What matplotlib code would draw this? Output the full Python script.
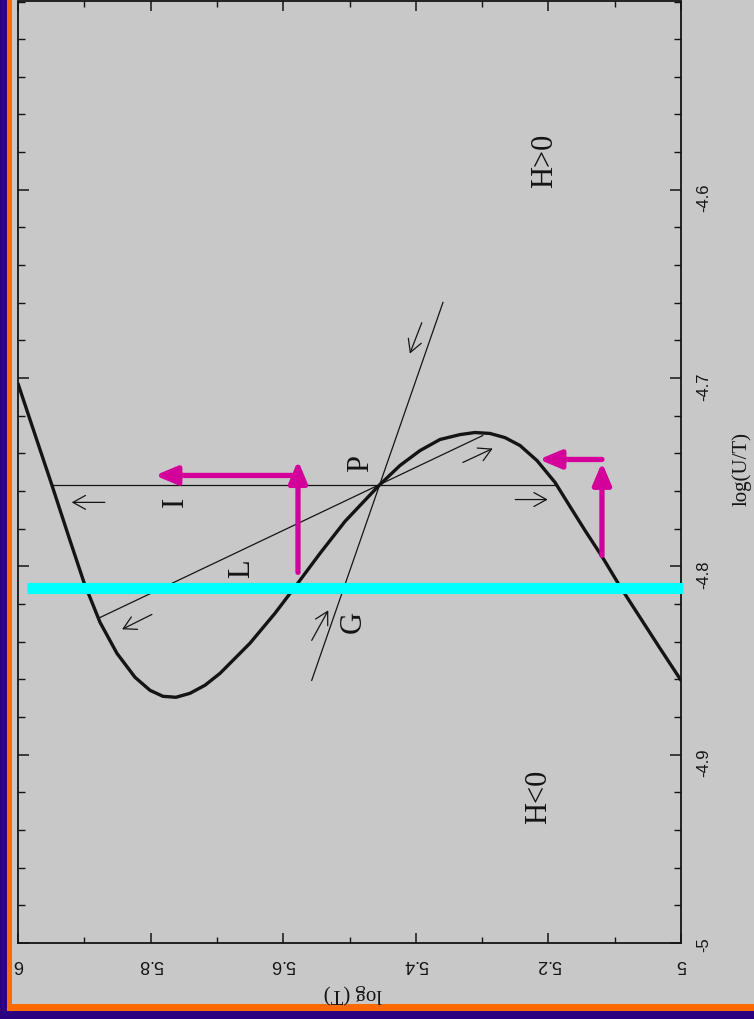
import matplotlib
matplotlib.use("Agg")
import matplotlib.pyplot as plt
from matplotlib.patches import Rectangle
from matplotlib.ticker import MultipleLocator

# ---- data -------------------------------------------------------------
# Thermal equilibrium curve (H = 0): log T against log(U/T)
log_T = [6.0000, 5.9774, 5.9487, 5.9246, 5.9005, 5.8763, 5.8507, 5.8235,
         5.8009, 5.7813, 5.7617, 5.7406, 5.7179, 5.6953, 5.6501, 5.6124,
         5.5792, 5.5445, 5.5068, 5.4555, 5.4238, 5.3937, 5.3635, 5.3333,
         5.3107, 5.2881, 5.2655, 5.2428, 5.2172, 5.1900, 5.1674, 5.1448,
         5.1192, 5.0920, 5.0618, 5.0317, 5.0000]
log_UT = [-4.7029, -4.7268, -4.7570, -4.7830, -4.8085, -4.8297, -4.8462,
          -4.8589, -4.8658, -4.8690, -4.8695, -4.8674, -4.8631, -4.8568,
          -4.8408, -4.8249, -4.8095, -4.7931, -4.7761, -4.7570, -4.7464,
          -4.7385, -4.7326, -4.7300, -4.7289, -4.7294, -4.7316, -4.7358,
          -4.7438, -4.7554, -4.7682, -4.7809, -4.7947, -4.8106, -4.8271,
          -4.8435, -4.8605]

# Perturbation lines through P: I, L and G
line_I_T = [5.947, 5.190]
line_I_UT = [-4.757, -4.757]
line_L_T = [5.879, 5.299]
line_L_UT = [-4.8276, -4.7305]
line_G_T = [5.557, 5.359]
line_G_UT = [-4.8605, -4.6598]

# small direction arrows (tail T, tail U/T, head T, head U/T)
dir_arrows = [
    (5.869, -4.766, 5.919, -4.766),
    (5.250, -4.7645, 5.201, -4.7645),
    (5.798, -4.8255, 5.843, -4.8334),
    (5.329, -4.7448, 5.284, -4.7374),
    (5.557, -4.8393, 5.532, -4.8233),
    (5.391, -4.6706, 5.409, -4.6870),
]

# region / line labels (text, T, U/T)
labels = [
    ("I", 5.763, -4.7655),
    ("L", 5.662, -4.8010),
    ("P", 5.484, -4.7454),
    ("G", 5.495, -4.8297),
    ("H>0", 5.205, -4.5846),
    ("H<0", 5.214, -4.9225),
]

# highlighted level and the two step arrows drawn over it
cut_UT = -4.8117
cut_T = [5.986, 4.997]
step_up = [(5.5777, -4.8032, 5.5777, -4.7438),
           (5.1192, -4.7942, 5.1192, -4.7448)]
step_left = [(5.5750, -4.7517, 5.7934, -4.7517),
             (5.1192, -4.7432, 5.2142, -4.7432)]

x_ticks = [6.0, 5.8, 5.6, 5.4, 5.2, 5.0]
x_ticklabels = ["6", "5.8", "5.6", "5.4", "5.2", "5"]
y_ticks = [-5.0, -4.9, -4.8, -4.7, -4.6]
y_ticklabels = ["-5", "-4.9", "-4.8", "-4.7", "-4.6"]

# ---- figure -----------------------------------------------------------
W, H = 754, 1019
PURPLE = "#2a0080"
ORANGE = "#ff6a00"
GRAY = "#c8c8c8"
INK = "#141414"
MAGENTA = "#d4009a"
CYAN = "#00ffff"

fig = plt.figure(figsize=(W / 100, H / 100), dpi=100)
fig.patch.set_facecolor(PURPLE)
fig.add_artist(Rectangle((7 / W, 8 / H), 1, 1, transform=fig.transFigure,
                         facecolor=ORANGE, edgecolor="none", zorder=0))
fig.add_artist(Rectangle((12 / W, 15 / H), 1, 1, transform=fig.transFigure,
                         facecolor=GRAY, edgecolor="none", zorder=0))

ax = fig.add_axes([18 / W, 76 / H, 663 / W, 941.5 / H])
ax.set_facecolor(GRAY)
ax.set_xlim(6.0, 5.0)
ax.set_ylim(-5.0, -4.5)
for sp in ax.spines.values():
    sp.set_linewidth(1.3)
    sp.set_color(INK)

ax.set_xticks(x_ticks)
ax.set_xticklabels(x_ticklabels, rotation=180, fontsize=13,
                   family="Liberation Sans", color=INK)
ax.xaxis.set_minor_locator(MultipleLocator(0.1))
ax.set_yticks(y_ticks)
ax.set_yticklabels(y_ticklabels, rotation=90, fontsize=12,
                   family="Liberation Sans", color=INK)
ax.yaxis.set_minor_locator(MultipleLocator(0.02))
ax.tick_params(axis="both", which="both", direction="in", color=INK,
               top=True, bottom=True, left=True, right=True)
ax.tick_params(axis="x", which="major", length=7, width=1.1, pad=9)
ax.tick_params(axis="x", which="minor", length=4, width=1.0)
ax.tick_params(axis="y", which="major", length=8, width=1.1, pad=11,
               labelleft=False, labelright=True)
ax.tick_params(axis="y", which="minor", length=5, width=1.0)

# equilibrium curve
ax.plot(log_T, log_UT, color=INK, lw=2.4, solid_joinstyle="round",
        solid_capstyle="round", zorder=3)

# perturbation lines
for xs, ys in [(line_I_T, line_I_UT), (line_L_T, line_L_UT),
               (line_G_T, line_G_UT)]:
    ax.plot(xs, ys, color=INK, lw=0.9, zorder=2)

for x0, y0, x1, y1 in dir_arrows:
    ax.annotate("", xy=(x1, y1), xytext=(x0, y0),
                arrowprops=dict(arrowstyle="->,head_length=0.9,head_width=0.5",
                                lw=0.9, color=INK, shrinkA=0, shrinkB=0))

for txt, x, y in labels:
    ax.text(x, y, txt, rotation=90, ha="center", va="center", fontsize=22,
            family="Liberation Serif", color=INK, zorder=4)

# highlighted level and step arrows
ax.plot(cut_T, [cut_UT, cut_UT], color=CYAN, lw=8, solid_capstyle="butt",
        clip_on=False, zorder=5)
for x0, y0, x1, y1 in step_up + step_left:
    ax.annotate("", xy=(x1, y1), xytext=(x0, y0),
                arrowprops=dict(arrowstyle="-|>,head_length=1.3,head_width=0.55",
                                lw=3.8, color=MAGENTA, shrinkA=0, shrinkB=0),
                zorder=6)

# axis titles
fig.text(353 / W, 1 - 994 / H, "log (T)", rotation=180, ha="center",
         va="center", fontsize=15, family="Liberation Serif", color=INK)
fig.text(742 / W, 1 - 469 / H, "log(U/T)", rotation=90, ha="center",
         va="center", fontsize=15, family="Liberation Serif", color=INK)

fig.savefig("out.png", dpi=100, facecolor=fig.get_facecolor())
